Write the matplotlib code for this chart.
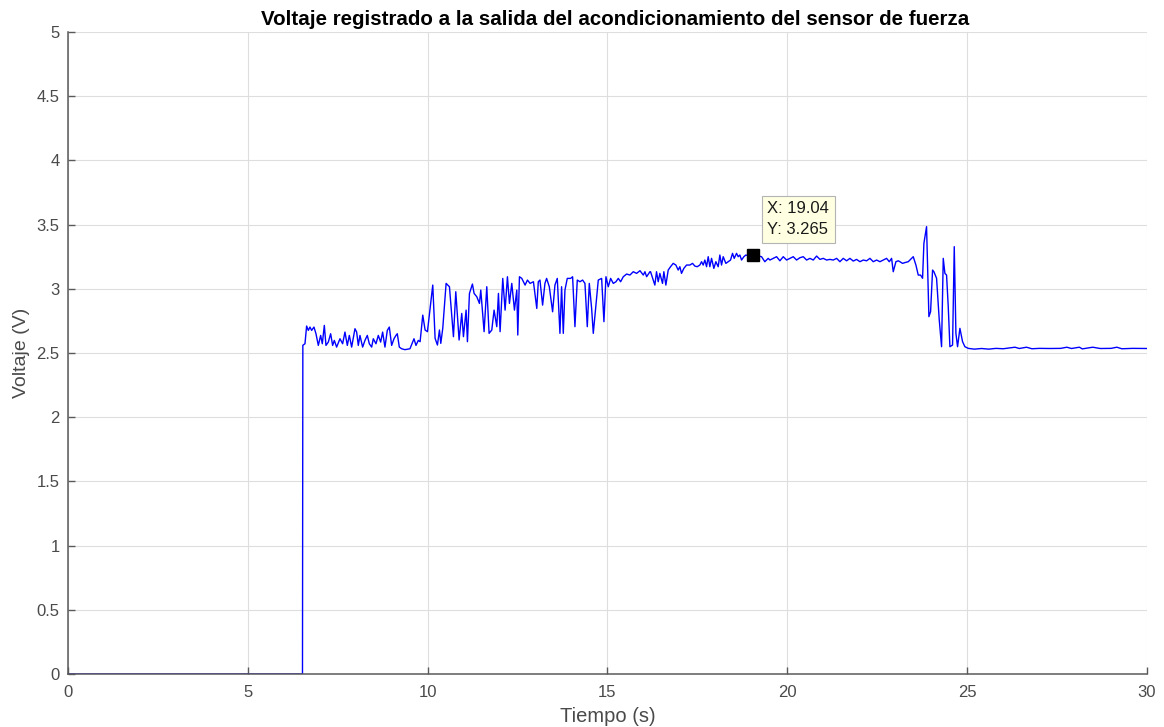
import matplotlib
matplotlib.use("Agg")
import matplotlib.pyplot as plt

plt.rcParams['font.family'] = ['Liberation Sans', 'DejaVu Sans']

# Sensor conditioning output: time (s) and voltage (V)
tiempo = [
    0.0, 6.52, 6.53,
    6.589, 6.635, 6.682, 6.728, 6.774, 6.839, 6.895, 6.960, 7.025, 7.071,
    7.127, 7.173, 7.238, 7.303, 7.358, 7.405, 7.469, 7.562, 7.636, 7.701,
    7.766, 7.822, 7.887, 7.979, 8.026, 8.072, 8.118, 8.192, 8.257, 8.322,
    8.378, 8.443, 8.489, 8.563, 8.628, 8.693, 8.748, 8.813, 8.878, 8.934,
    8.999, 9.064, 9.119, 9.156, 9.212, 9.277, 9.369, 9.508, 9.583, 9.620,
    9.675, 9.740,
    9.790, 9.864, 9.929, 9.994, 10.142, 10.207, 10.272, 10.328, 10.365,
    10.420, 10.513, 10.606, 10.717, 10.782, 10.874, 10.948, 10.995, 11.069,
    11.106, 11.162, 11.245, 11.291, 11.366, 11.440, 11.477, 11.569, 11.644,
    11.708, 11.783, 11.847, 11.922, 11.968, 12.014, 12.088, 12.153, 12.218,
    12.274, 12.339, 12.413, 12.478, 12.506, 12.552, 12.617, 12.709, 12.774,
    12.848, 12.941, 13.034,
    13.076, 13.122, 13.196, 13.261, 13.307, 13.382, 13.474, 13.539, 13.604,
    13.678, 13.724, 13.771, 13.817, 13.882, 13.975, 14.030, 14.095, 14.160,
    14.234, 14.308, 14.373, 14.438, 14.494, 14.559, 14.605, 14.679, 14.744,
    14.837, 14.901, 14.957, 15.022, 15.087, 15.161, 15.235, 15.300, 15.365,
    15.439, 15.532, 15.624, 15.717, 15.810, 15.903, 15.995, 16.041, 16.088,
    16.180,
    16.197, 16.271, 16.317, 16.363, 16.410, 16.456, 16.530, 16.567, 16.623,
    16.688, 16.753, 16.827, 16.901, 16.966, 17.012, 17.058, 17.123, 17.198,
    17.290, 17.364, 17.429, 17.494, 17.568, 17.615, 17.661, 17.707, 17.754,
    17.800, 17.846, 17.893, 17.957, 18.013, 18.078, 18.124, 18.171, 18.217,
    18.291, 18.356, 18.421, 18.476, 18.523, 18.588, 18.634, 18.680, 18.727,
    18.792, 18.847, 18.958, 19.040, 19.283, 19.375, 19.468,
    19.516, 19.609, 19.701, 19.794, 19.887, 19.979, 20.072, 20.165, 20.257,
    20.350, 20.443, 20.535, 20.628, 20.721, 20.814, 20.906, 20.999, 21.092,
    21.184, 21.277, 21.370, 21.462, 21.555, 21.648, 21.740, 21.833, 21.926,
    22.018, 22.111, 22.204, 22.296, 22.389, 22.482, 22.575, 22.667, 22.760,
    22.834, 22.899, 22.945, 23.019, 23.084,
    23.130, 23.204, 23.269, 23.362, 23.454, 23.501, 23.575, 23.640, 23.705,
    23.760, 23.797, 23.871, 23.936, 23.983, 24.038, 24.075, 24.149, 24.224,
    24.288, 24.335, 24.381, 24.427, 24.474, 24.520, 24.594, 24.641, 24.687,
    24.733, 24.798, 24.872, 24.937, 25.030,
    25.2, 25.4, 25.6, 25.8, 26.0, 26.33, 26.45, 26.65, 26.8, 27.0, 27.3,
    27.6, 27.77, 27.9, 28.12, 28.2, 28.49, 28.7, 29.0, 29.16, 29.3, 29.6, 30.0,
]

voltaje = [
    0.0, 0.0, 2.56,
    2.572, 2.710, 2.676, 2.702, 2.676, 2.702, 2.650, 2.559, 2.637, 2.572,
    2.715, 2.559, 2.585, 2.650, 2.559, 2.598, 2.546, 2.611, 2.572, 2.663,
    2.559, 2.637, 2.546, 2.689, 2.663, 2.559, 2.637, 2.546, 2.598, 2.637,
    2.572, 2.546, 2.611, 2.572, 2.637, 2.585, 2.663, 2.546, 2.676, 2.702,
    2.559, 2.611, 2.637, 2.650, 2.546, 2.533, 2.526, 2.533, 2.585, 2.611,
    2.559, 2.598,
    2.588, 2.795, 2.679, 2.666, 3.029, 2.614, 2.562, 2.679, 2.575,
    2.692, 3.042, 3.016, 2.627, 2.977, 2.601, 2.808, 2.627, 2.834,
    2.588, 2.964, 3.037, 2.964, 2.938, 2.886, 2.990, 2.666, 3.016,
    2.653, 2.679, 2.834, 2.705, 2.964, 2.666, 3.081, 2.834, 3.094,
    2.886, 3.042, 2.834, 2.990, 2.640, 3.094, 3.081, 3.029, 3.068,
    3.042, 3.055, 2.847,
    3.055, 3.068, 2.873, 3.042, 3.081, 3.016, 2.821, 3.029, 3.081,
    2.653, 3.016, 2.653, 2.990, 3.081, 3.081, 3.094, 2.705, 3.068,
    3.055, 3.068, 3.042, 2.705, 3.042, 2.847, 2.653, 2.873, 3.068,
    3.081, 2.744, 3.094, 3.016, 3.081, 3.042, 3.055, 3.081, 3.055,
    3.094, 3.115, 3.107, 3.133, 3.120, 3.141, 3.107, 3.133, 3.094,
    3.133,
    3.133, 3.068, 3.029, 3.133, 3.055, 3.120, 3.042, 3.133, 3.029,
    3.146, 3.172, 3.198, 3.185, 3.146, 3.172, 3.120, 3.159, 3.185,
    3.185, 3.198, 3.177, 3.172, 3.185, 3.211, 3.185, 3.224, 3.172,
    3.250, 3.172, 3.237, 3.159, 3.211, 3.172, 3.263, 3.185, 3.250,
    3.198, 3.211, 3.224, 3.276, 3.237, 3.276, 3.250, 3.263, 3.224,
    3.250, 3.263, 3.255, 3.265, 3.250, 3.211, 3.237,
    3.224, 3.237, 3.250, 3.218, 3.250, 3.224, 3.237, 3.250, 3.224,
    3.242, 3.250, 3.224, 3.237, 3.224, 3.255, 3.229, 3.237, 3.224,
    3.229, 3.224, 3.237, 3.211, 3.237, 3.218, 3.237, 3.216, 3.229,
    3.211, 3.224, 3.218, 3.237, 3.211, 3.224, 3.211, 3.224, 3.237,
    3.211, 3.237, 3.133, 3.211, 3.218,
    3.211, 3.198, 3.204, 3.211, 3.237, 3.250, 3.185, 3.107, 3.107,
    3.082, 3.354, 3.484, 2.783, 2.822, 3.146, 3.133, 3.082, 2.757,
    2.549, 3.237, 3.120, 3.107, 2.861, 2.549, 2.562, 3.328, 2.653,
    2.549, 2.692, 2.588, 2.549, 2.536,
    2.530, 2.535, 2.530, 2.536, 2.533, 2.545, 2.535, 2.545, 2.533, 2.536, 2.535,
    2.536, 2.545, 2.535, 2.545, 2.532, 2.545, 2.535, 2.536, 2.545, 2.533, 2.536, 2.535,
]

# Data tip shown on the curve
tip_x = 19.04
tip_y = 3.265

xticks = [0, 5, 10, 15, 20, 25, 30]
yticks = [0, 0.5, 1, 1.5, 2, 2.5, 3, 3.5, 4, 4.5, 5]
ytick_labels = ['0', '0.5', '1', '1.5', '2', '2.5', '3', '3.5', '4', '4.5', '5']

fig = plt.figure(figsize=(11.64, 7.27), dpi=100)
ax = fig.add_axes([0.0584, 0.0729, 0.9270, 0.8831])

ax.plot(tiempo, voltaje, color='#0000ff', linewidth=1.0)

ax.set_xlim(0, 30)
ax.set_ylim(0, 5)
ax.set_xticks(xticks)
ax.set_yticks(yticks)
ax.set_yticklabels(ytick_labels)

text_color = '#4a4a4a'
axis_color = '#5a5a5a'
ax.tick_params(direction='in', length=5, width=1.0, colors=axis_color,
               labelcolor=text_color, labelsize=12)
ax.tick_params(axis='x', pad=8)
ax.tick_params(axis='y', pad=6)
ax.grid(True, color='#dedede', linewidth=0.8)
ax.set_axisbelow(True)
for side in ('top', 'right'):
    ax.spines[side].set_visible(False)
for side in ('left', 'bottom'):
    ax.spines[side].set_color(axis_color)
    ax.spines[side].set_linewidth(1.1)

ax.set_title('Voltaje registrado a la salida del acondicionamiento del sensor de fuerza',
             fontsize=14.8, fontweight='bold', color='#000000', pad=5, x=0.507)
ax.set_xlabel('Tiempo (s)', fontsize=14.5, color=text_color, labelpad=5)
ax.set_ylabel('Voltaje (V)', fontsize=14, color=text_color, labelpad=5)

ax.plot([tip_x], [tip_y], marker='s', markersize=8.5, color='black', zorder=5)
ax.annotate(f'X: {tip_x:.2f}\nY: {tip_y:.3f}', xy=(tip_x, tip_y),
            xytext=(10.5, 12.5), textcoords='offset points', ha='left', va='bottom',
            fontsize=12, color='#1a1a1a', linespacing=1.5,
            bbox=dict(boxstyle='square,pad=0.35', fc='#ffffe1', ec='#b4b4b4', lw=0.8),
            zorder=6)

fig.savefig('out.png', dpi=100, facecolor='white')
